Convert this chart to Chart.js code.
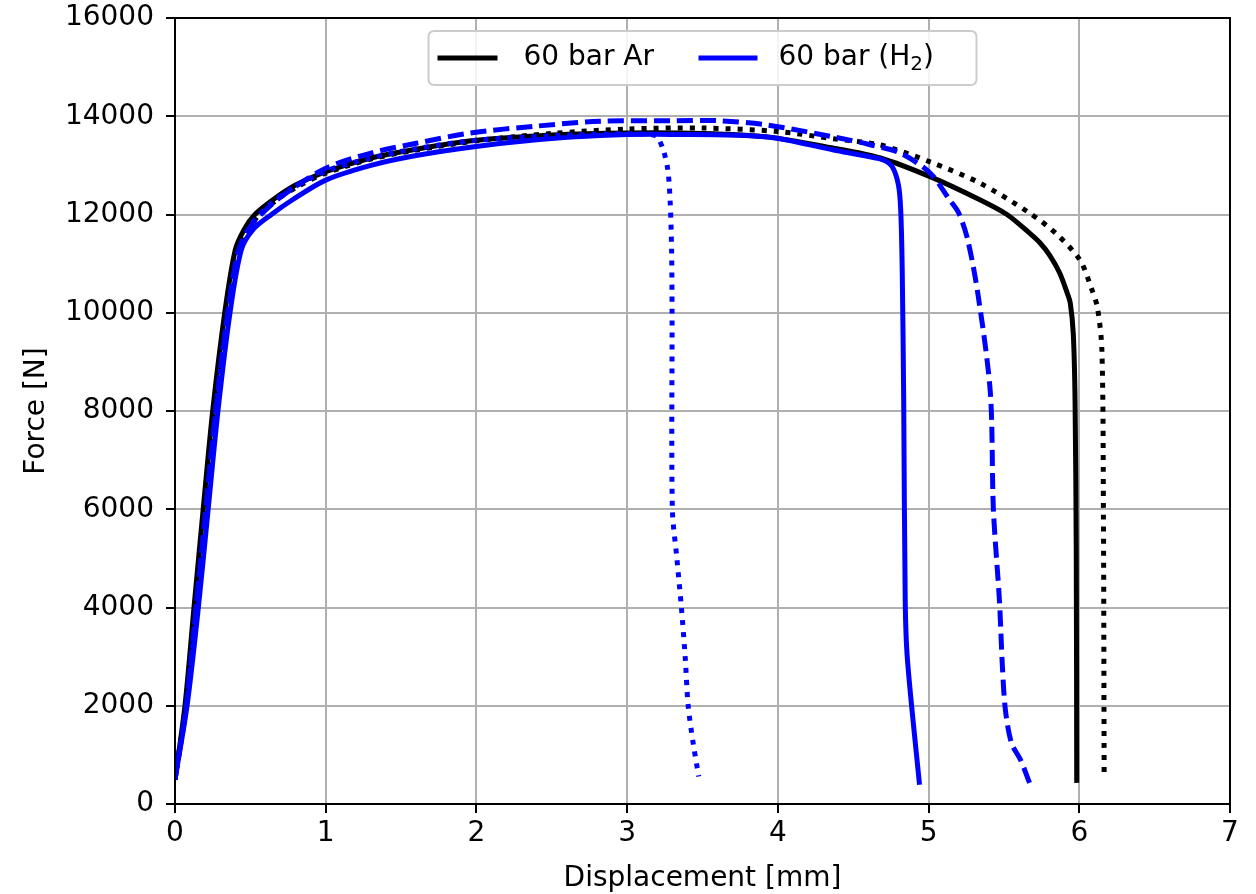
<!DOCTYPE html>
<html>
<head>
<meta charset="utf-8">
<script src="https://cdn.jsdelivr.net/npm/chart.js@4.4.0/dist/chart.umd.min.js"></script>
<style>
html,body{margin:0;padding:0;background:#fff;}
#c{display:block;}
</style>
</head>
<body>
<canvas id="c" width="1256" height="894"></canvas>
<script>
// ---- Data ----
const xTicks = [0, 1, 2, 3, 4, 5, 6, 7];
const yTicks = [0, 2000, 4000, 6000, 8000, 10000, 12000, 14000, 16000];
const legendLabels = ['60 bar Ar', '60 bar (H', '2', ')'];

// 60 bar Ar, specimen 1 (solid black)
const arSolidX = [0, 0.066, 0.126, 0.187, 0.25, 0.33, 0.40, 0.46, 0.53, 0.65, 0.8, 1.0, 1.3, 1.6, 2.0, 2.5, 3.0, 3.5, 3.93, 4.37, 4.68, 5.01, 5.34, 5.52, 5.67, 5.74, 5.806, 5.87, 5.92, 5.94, 5.96, 5.972, 5.98, 5.983];
const arSolidF = [490, 2000, 4000, 6000, 8000, 10000, 11280, 11700, 12000, 12300, 12600, 12870, 13150, 13330, 13510, 13620, 13660, 13650, 13580, 13350, 13150, 12770, 12300, 12000, 11620, 11420, 11160, 10810, 10400, 10200, 9580, 8200, 5000, 430];

// 60 bar Ar, specimen 2 (dotted black)
const arDotX = [0, 0.07, 0.135, 0.2, 0.265, 0.345, 0.42, 0.49, 0.56, 0.7, 0.82, 1.0, 1.3, 1.6, 2.0, 2.5, 3.0, 3.5, 4.0, 4.37, 4.68, 5.01, 5.34, 5.67, 5.85, 6.005, 6.08, 6.12, 6.15, 6.16, 6.165];
const arDotF = [530, 2000, 4000, 6000, 8000, 10000, 11200, 11700, 12000, 12350, 12580, 12840, 13130, 13310, 13500, 13650, 13740, 13760, 13690, 13540, 13415, 13070, 12640, 12030, 11600, 11070, 10500, 10110, 9240, 6000, 530];

// 60 bar H2, specimen 1 (solid blue)
const h2SolidX = [0, 0.08, 0.155, 0.22, 0.285, 0.365, 0.44, 0.52, 0.64, 0.78, 1.0, 1.3, 1.6, 1.96, 2.4, 2.82, 3.3, 3.93, 4.37, 4.6, 4.70, 4.76, 4.80, 4.815, 4.825, 4.835, 4.845, 4.86, 4.94];
const h2SolidF = [500, 2000, 4000, 6000, 8000, 10000, 11280, 11700, 12000, 12300, 12700, 13000, 13200, 13370, 13520, 13610, 13630, 13578, 13313, 13180, 13110, 12967, 12600, 12100, 10900, 8200, 4150, 2930, 390];

// 60 bar H2, specimen 2 (dashed blue)
const h2DashX = [0, 0.075, 0.14, 0.205, 0.27, 0.35, 0.42, 0.5, 0.57, 0.72, 1.0, 1.3, 1.6, 1.96, 2.4, 2.82, 3.3, 3.6, 3.93, 4.37, 4.6, 4.81, 5.01, 5.14, 5.2, 5.26, 5.33, 5.41, 5.43, 5.47, 5.49, 5.51, 5.55, 5.61, 5.67];
const h2DashF = [500, 2000, 4000, 6000, 8000, 10000, 11250, 11750, 12000, 12400, 12940, 13250, 13450, 13660, 13800, 13900, 13910, 13910, 13822, 13578, 13430, 13252, 12845, 12295, 12030, 11481, 10330, 8366, 6000, 4150, 2790, 1910, 1240, 900, 430];

// 60 bar H2, specimen 3 (dotted blue)
const h2DotX = [0, 0.075, 0.14, 0.205, 0.27, 0.35, 0.42, 0.49, 0.56, 0.72, 1.0, 1.3, 1.6, 2.0, 2.5, 2.9, 3.1, 3.17, 3.2, 3.24, 3.27, 3.285, 3.295, 3.298, 3.30, 3.33, 3.36, 3.385, 3.405, 3.44, 3.475];
const h2DotF = [500, 2000, 4000, 6000, 8000, 10000, 11250, 11720, 12000, 12420, 12880, 13150, 13340, 13510, 13600, 13640, 13640, 13620, 13578, 13313, 12906, 12295, 11277, 10000, 6000, 5000, 4000, 3000, 2000, 1200, 560];

function pts(xs, ys) { return xs.map((x, i) => ({ x: x, y: ys[i] })); }

const FONT = 'DejaVu Sans';
const FS = 28;

const frameAndLegend = {
  id: 'frameAndLegend',
  afterDraw(chart) {
    const ctx = chart.ctx;
    const a = chart.chartArea;
    ctx.save();
    ctx.strokeStyle = '#000';
    ctx.lineWidth = 2;
    ctx.strokeRect(a.left, a.top, a.right - a.left, a.bottom - a.top);

    const cx = (a.left + a.right) / 2;
    const bw = 548, bh = 54;
    const bx = cx - bw / 2, by = a.top + 13;
    const r = 6;
    ctx.beginPath();
    ctx.moveTo(bx + r, by);
    ctx.lineTo(bx + bw - r, by);
    ctx.quadraticCurveTo(bx + bw, by, bx + bw, by + r);
    ctx.lineTo(bx + bw, by + bh - r);
    ctx.quadraticCurveTo(bx + bw, by + bh, bx + bw - r, by + bh);
    ctx.lineTo(bx + r, by + bh);
    ctx.quadraticCurveTo(bx, by + bh, bx, by + bh - r);
    ctx.lineTo(bx, by + r);
    ctx.quadraticCurveTo(bx, by, bx + r, by);
    ctx.closePath();
    ctx.fillStyle = 'rgba(255,255,255,0.85)';
    ctx.fill();
    ctx.strokeStyle = '#cccccc';
    ctx.lineWidth = 2;
    ctx.stroke();

    const ly = by + bh / 2;
    ctx.lineWidth = 5;
    ctx.strokeStyle = '#000';
    ctx.beginPath(); ctx.moveTo(bx + 9, ly); ctx.lineTo(bx + 69, ly); ctx.stroke();
    ctx.strokeStyle = '#0000ff';
    ctx.beginPath(); ctx.moveTo(bx + 270, ly); ctx.lineTo(bx + 329, ly); ctx.stroke();

    ctx.fillStyle = '#000';
    ctx.textBaseline = 'middle';
    ctx.textAlign = 'left';
    ctx.font = FS + 'px "' + FONT + '"';
    ctx.fillText(legendLabels[0], bx + 95, ly);
    let tx = bx + 350;
    ctx.fillText(legendLabels[1], tx, ly);
    tx += ctx.measureText(legendLabels[1]).width;
    ctx.font = Math.round(FS * 0.7) + 'px "' + FONT + '"';
    ctx.fillText(legendLabels[2], tx, ly + 7);
    tx += ctx.measureText(legendLabels[2]).width;
    ctx.font = FS + 'px "' + FONT + '"';
    ctx.fillText(legendLabels[3], tx, ly);
    ctx.restore();
  }
};

const common = { showLine: true, pointRadius: 0, pointHoverRadius: 0, borderWidth: 5, fill: false, tension: 0.3 };

new Chart(document.getElementById('c'), {
  type: 'scatter',
  data: {
    datasets: [
      Object.assign({ label: '60 bar (H2) 1', data: pts(h2SolidX, h2SolidF), borderColor: '#0000ff' }, common),
      Object.assign({ label: '60 bar (H2) 2', data: pts(h2DashX, h2DashF), borderColor: '#0000ff', borderDash: [16, 7] }, common),
      Object.assign({ label: '60 bar (H2) 3', data: pts(h2DotX, h2DotF), borderColor: '#0000ff', borderDash: [5, 7] }, common),
      Object.assign({ label: '60 bar Ar 1', data: pts(arSolidX, arSolidF), borderColor: '#000000' }, common),
      Object.assign({ label: '60 bar Ar 2', data: pts(arDotX, arDotF), borderColor: '#000000', borderDash: [5, 7] }, common)
    ]
  },
  options: {
    responsive: false,
    animation: false,
    devicePixelRatio: 1,
    layout: { padding: { top: 18, right: 26, left: 0, bottom: 0 } },
    plugins: { legend: { display: false }, tooltip: { enabled: false } },
    scales: {
      x: {
        type: 'linear', min: 0, max: 7,
        afterBuildTicks: s => { s.ticks = xTicks.map(v => ({ value: v })); },
        ticks: { color: '#000', font: { family: FONT, size: FS }, padding: 4, maxRotation: 0, callback: v => String(v) },
        grid: { color: '#b0b0b0', lineWidth: 2, tickColor: '#000', tickLength: 9, tickWidth: 2 },
        border: { display: false },
        title: { display: true, text: 'Displacement [mm]', color: '#000', font: { family: FONT, size: FS }, padding: { top: 0, bottom: -2 } },
        afterFit: s => { s.height = 90; s.paddingLeft = 0; s.paddingRight = 0; }
      },
      y: {
        type: 'linear', min: 0, max: 16000,
        afterBuildTicks: s => { s.ticks = yTicks.map(v => ({ value: v })); },
        ticks: { color: '#000', font: { family: FONT, size: FS }, padding: 12, callback: v => String(v) },
        grid: { color: '#b0b0b0', lineWidth: 2, tickColor: '#000', tickLength: 9, tickWidth: 2 },
        border: { display: false },
        title: { display: true, text: 'Force [N]', color: '#000', font: { family: FONT, size: FS }, padding: { top: 20, bottom: 0 } },
        afterFit: s => { s.width = 175; s.paddingTop = 0; s.paddingBottom = 0; }
      }
    }
  },
  plugins: [frameAndLegend]
});
</script>
</body>
</html>
